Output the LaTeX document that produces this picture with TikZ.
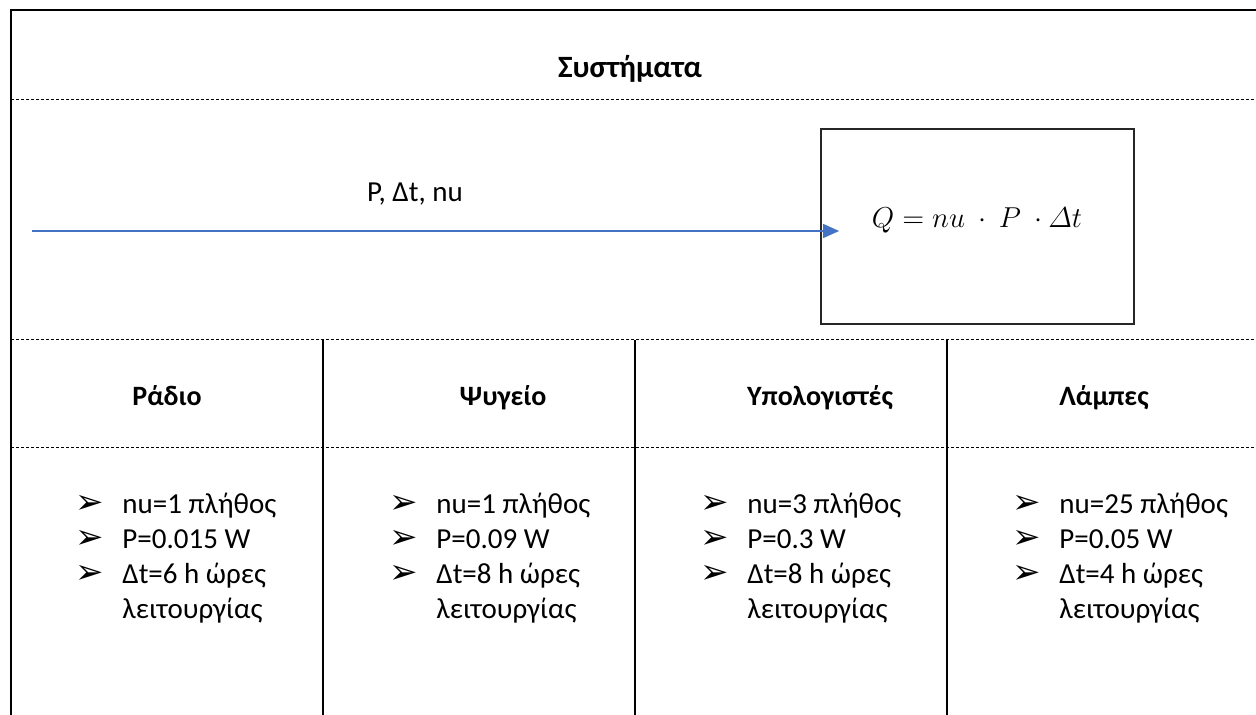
\documentclass[tikz,border=0pt]{standalone}
\usepackage{fontspec}
\setmainfont{Carlito}
\newfontfamily\dingfont{DejaVu Sans}
\usepackage{tikz}
\usetikzlibrary{arrows.meta, positioning, calc}
\definecolor{flowblue}{RGB}{68, 114, 196}

% arrowhead bullet and the three-line item list of one device
\newcommand{\itemarrow}{\makebox[23.5pt][l]{\dingfont\fontsize{17}{17}\selectfont ➢}}
\newcommand{\itemlist}[3]{%
  \begin{tabular}[t]{@{}l@{}l@{}}
    \itemarrow & nu=#1 πλήθος\\
    \itemarrow & P=#2 W\\
    \itemarrow & Δt=#3 h ώρες\\
               & λειτουργίας
  \end{tabular}}

\begin{document}
\begin{tikzpicture}[
    x=0.5pt, y=-0.5pt,
    frame/.style={line width=1pt},
    divider/.style={line width=0.5pt, dash pattern=on 1.5pt off 1pt},
    title/.style={font=\fontsize{14}{16}\selectfont\bfseries, anchor=base, inner sep=0pt},
    items/.style={font=\fontsize{14.5}{17.5}\selectfont, anchor=base west, inner sep=0pt},
    formulabox/.style={draw=black!85, line width=0.9pt, minimum width=156.5pt, minimum height=97.5pt},
    flow/.style={-{Triangle[length=8pt, width=7pt]}, draw=flowblue, line width=0.6pt}
]
    \useasboundingbox (0,0) rectangle (1256,715);

    % Outer frame and rows
    \draw[frame] (11,715) -- (11,10) -- (1256,10);
    \draw[divider] (11,100) -- (1256,100);
    \draw[divider] (11,340) -- (1256,340);
    \draw[divider] (11,447) -- (1256,447);
    \draw[frame] (323,340) -- (323,715);
    \draw[frame] (635,340) -- (635,715);
    \draw[frame] (947,340) -- (947,715);

    \node[title, font=\fontsize{15.5}{18}\selectfont\bfseries] (systems) at (630,78) {Συστήματα};

    % Input and formula
    \node[formulabox] (box) at (977.5,226.5) {};
    \node[font=\fontsize{14.5}{17}\selectfont, anchor=base] (formula) at (977,228)
        {$Q = nu\ \cdot\ P\ \cdot \mathnormal{\Delta} t$};
    \coordinate (src) at (32,231);
    \draw[flow] (src) -- ($(box.west |- src)+(19,0)$);
    \node[font=\fontsize{14.5}{17}\selectfont, anchor=base] (inputs) at (415,202) {P, Δt, nu};

    % Devices
    \node[title] (radio) at (167,406) {Ράδιο};
    \node[title] (fridge) at (503,406) {Ψυγείο};
    \node[title] (pcs) at (820,406) {Υπολογιστές};
    \node[title] (lamps) at (1104,406) {Λάμπες};

    \node[items] (radiolist) at (75,513) {\itemlist{1}{0.015}{6}};
    \node[items] (fridgelist) at (389,513) {\itemlist{1}{0.09}{8}};
    \node[items] (pclist) at (700,513) {\itemlist{3}{0.3}{8}};
    \node[items] (lamplist) at (1012,513) {\itemlist{25}{0.05}{4}};
\end{tikzpicture}
\end{document}
